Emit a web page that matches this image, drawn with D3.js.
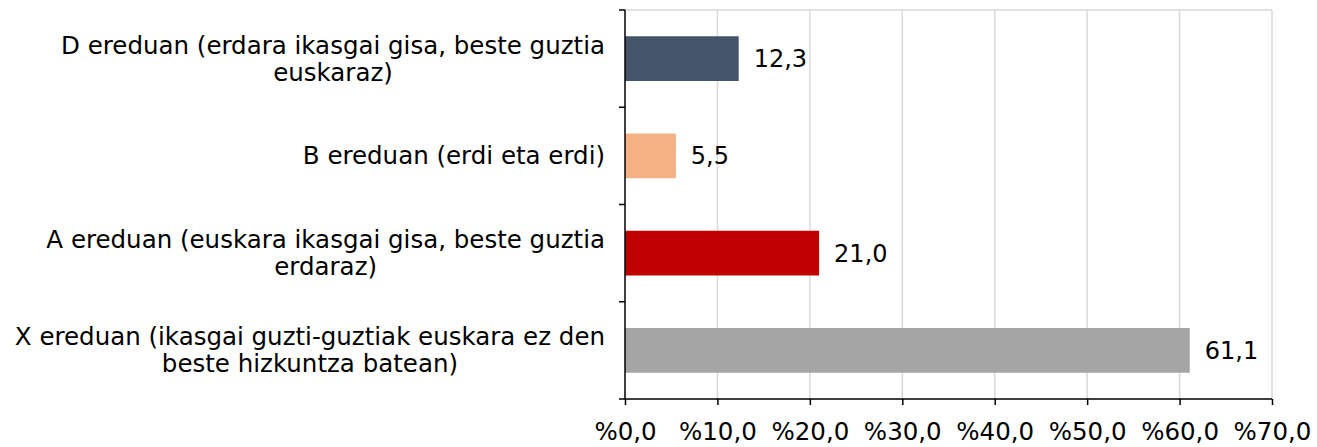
<!DOCTYPE html>
<html>
<head>
<meta charset="utf-8">
<script src="https://cdn.jsdelivr.net/npm/d3@7"></script>
<style>
  body { margin: 0; background: #fff; }
  text { font-family: "DejaVu Sans", Verdana, sans-serif; fill: #000; }
</style>
</head>
<body>
<div id="chart"></div>
<script>
// data
const categories = [
  ["D ereduan (erdara ikasgai gisa, beste guztia", "euskaraz)"],
  ["B ereduan (erdi eta erdi)"],
  ["A ereduan (euskara ikasgai gisa, beste guztia", "erdaraz)"],
  ["X ereduan (ikasgai guzti-guztiak euskara ez den", "beste hizkuntza batean)"]
];
const values = [12.3, 5.5, 21.0, 61.1];
const colors = ["#44546a", "#f4b183", "#c00000", "#a5a5a5"];
const xTicks = [0, 10, 20, 30, 40, 50, 60, 70];

const width = 1317, height = 447;
const margin = { top: 10, right: 45, bottom: 48, left: 625 };

const svg = d3.select("#chart").append("svg")
  .attr("width", width).attr("height", height);

const xScale = d3.scaleLinear().domain([0, 70]).range([margin.left, width - margin.right]);
const yScale = d3.scaleBand().domain(d3.range(categories.length))
  .range([margin.top, height - margin.bottom]).paddingInner(0.54).paddingOuter(0.27);
const fmt = (d) => d.toFixed(1).replace(".", ",");

// grid
svg.append("g").selectAll("line").data(xTicks.slice(1)).enter().append("line")
  .attr("x1", (d) => xScale(d)).attr("x2", (d) => xScale(d))
  .attr("y1", margin.top).attr("y2", height - margin.bottom)
  .attr("stroke", "#d9d9d9").attr("stroke-width", 1.5);
svg.append("line")
  .attr("x1", margin.left).attr("x2", xScale(70))
  .attr("y1", margin.top).attr("y2", margin.top)
  .attr("stroke", "#d9d9d9").attr("stroke-width", 1.5);

// bars
svg.selectAll(".bar").data(values).enter().append("rect")
  .attr("class", "bar")
  .attr("x", xScale(0))
  .attr("y", (d, i) => yScale(i))
  .attr("width", (d) => xScale(d) - xScale(0))
  .attr("height", yScale.bandwidth())
  .attr("fill", (d, i) => colors[i]);

svg.selectAll(".val").data(values).enter().append("text")
  .attr("class", "val")
  .attr("x", (d) => xScale(d) + 15)
  .attr("y", (d, i) => yScale(i) + yScale.bandwidth() / 2)
  .attr("dy", "0.35em")
  .style("font-size", "24px")
  .text((d) => fmt(d));

// x axis
const xAxis = d3.axisBottom(xScale).tickValues(xTicks).tickSize(6).tickPadding(18)
  .tickFormat((d) => "%" + fmt(d));
const gx = svg.append("g")
  .attr("transform", `translate(0, ${height - margin.bottom})`)
  .call(xAxis);
gx.select(".domain").attr("stroke", "#000").attr("stroke-width", 1.5).attr("d", `M${xScale(0)},0H${xScale(70)}`);
gx.selectAll(".tick line").attr("stroke", "#000").attr("stroke-width", 1.5);
gx.selectAll(".tick text").style("font-size", "24.5px").style("font-family", "DejaVu Sans, Verdana, sans-serif");

// y axis line with boundary ticks
const yTop = margin.top, yBot = height - margin.bottom;
svg.append("line").attr("x1", margin.left).attr("x2", margin.left)
  .attr("y1", yTop).attr("y2", yBot).attr("stroke", "#000").attr("stroke-width", 1.5);
svg.append("g").selectAll("line").data(d3.range(categories.length + 1)).enter().append("line")
  .attr("x1", margin.left - 6).attr("x2", margin.left)
  .attr("y1", (d) => yTop + d * (yBot - yTop) / categories.length)
  .attr("y2", (d) => yTop + d * (yBot - yTop) / categories.length)
  .attr("stroke", "#000").attr("stroke-width", 1.5);

// category labels: block right-aligned, lines centred inside it
const labelRight = 605;
const labels = svg.selectAll(".cat").data(categories).enter().append("text")
  .attr("class", "cat")
  .attr("text-anchor", "middle")
  .style("font-size", "24.5px");
labels.each(function (lines, i) {
  const cy = yScale(i) + yScale.bandwidth() / 2;
  const lh = 27;
  const spans = lines.map((t, j) =>
    d3.select(this).append("tspan")
      .attr("y", cy + (j - (lines.length - 1) / 2) * lh)
      .attr("dy", "0.35em")
      .text(t));
  const maxW = d3.max(spans, (s) => s.node().getComputedTextLength());
  spans.forEach((s) => s.attr("x", labelRight - maxW / 2));
});
</script>
</body>
</html>
